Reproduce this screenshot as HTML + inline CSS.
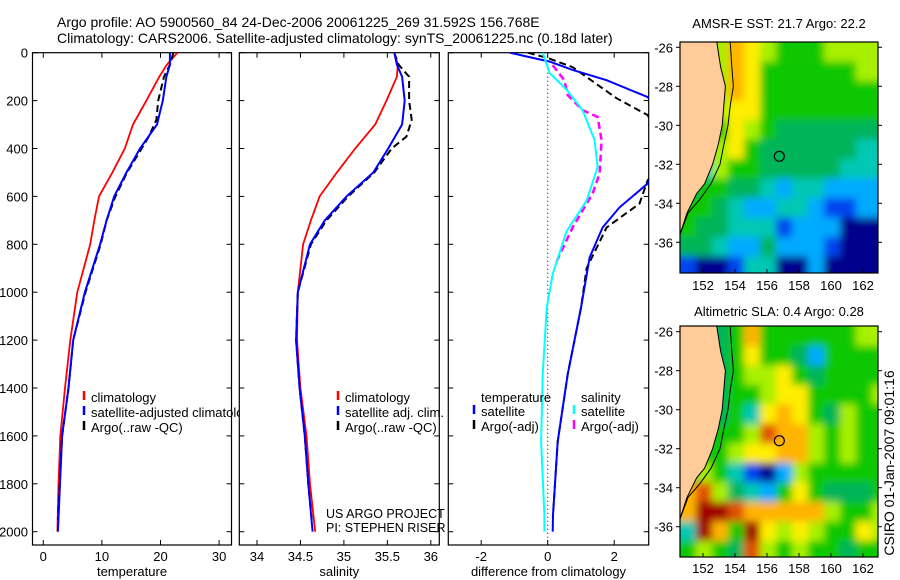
<!DOCTYPE html>
<html><head><meta charset="utf-8"><style>
body{margin:0;background:#fff}
svg{display:block}
text{font-family:"Liberation Sans",sans-serif;fill:#000}
</style></head><body>
<svg id="fig" width="900" height="580" viewBox="0 0 900 580" xmlns="http://www.w3.org/2000/svg">
<defs>
<clipPath id="c1"><rect x="32.5" y="52.7" width="199" height="492.3"/></clipPath>
<clipPath id="c2"><rect x="239.3" y="52.7" width="200" height="492.3"/></clipPath>
<clipPath id="c3"><rect x="448.3" y="52.7" width="200.4" height="492.3"/></clipPath>
<clipPath id="cm1"><rect x="680" y="42" width="198" height="231"/></clipPath>
<clipPath id="cm2"><rect x="680" y="326" width="198" height="231"/></clipPath>
<filter id="blur" x="-10%" y="-10%" width="120%" height="120%"><feGaussianBlur stdDeviation="4"/></filter>
</defs>
<text x="57" y="27" font-size="14">Argo profile: AO 5900560_84 24-Dec-2006 20061225_269 31.592S 156.768E</text>
<text x="57" y="43" font-size="14">Climatology: CARS2006. Satellite-adjusted climatology: synTS_20061225.nc (0.18d later)</text>
<g id="g1"></g>
<g id="g2"></g>
<g id="g3"></g>
<g id="m1"></g>
<g id="m2"></g>
<text x="0" y="0" font-size="14" text-anchor="middle" transform="translate(894,463) rotate(-90)">CSIRO 01-Jan-2007 09:01:16</text>
</svg>
<script>
// ---- data ----
const tDepth=[0,50,100,200,300,400,500,600,700,800,1000,1200,1400,1600,1800,2000];
const tClim=[22.9,21.1,19.8,17.6,15.3,13.9,11.8,9.5,8.7,8.0,5.8,4.6,3.7,2.9,2.6,2.4];
const tSat=[21.6,21.6,21.0,20.4,19.4,16.5,14.2,12.1,10.8,9.7,7.1,5.1,4.3,3.2,2.85,2.5];
const aDepth=[0,50,100,200,280,350,400,500,600,700,800,1000,1200,1400,1600,1800,1950];
const tArgo=[22.2,21.6,20.6,19.6,19.3,18.0,16.8,14.3,12.3,10.8,9.8,7.2,5.1,4.3,3.2,2.8,2.5];
const sClim=[35.58,35.62,35.61,35.49,35.36,35.13,34.92,34.72,34.62,34.53,34.47,34.46,34.5,34.57,34.61,34.67];
const sSat=[35.58,35.61,35.67,35.70,35.67,35.51,35.34,35.03,34.78,34.61,34.47,34.45,34.49,34.55,34.59,34.64];
const sArgo=[35.58,35.63,35.75,35.75,35.78,35.72,35.55,35.35,35.05,34.8,34.62,34.47,34.45,34.49,34.55,34.59,34.63];
const dtDepth=[0,20,37,72,115,185,300,400,547,646,730,855,1065,1343,1624,1930,2000];
const dtSat=[-1.14,-0.5,0.06,0.75,1.77,3.0,3.9,3.6,3.0,2.16,1.65,1.26,1.0,0.6,0.3,0.16,0.15];
const daDepth=[0,22,60,190,260,400,535,630,730,900,1065,1343,1624,1930];
const dtArgo=[-0.6,0,0.75,2.07,3.0,3.6,3.0,2.76,1.77,1.17,1.0,0.6,0.3,0.16];
const dsDepth=[0,85,155,240,365,478,618,745,924,1066,1345,1624,1930,2000];
const dsSat=[-0.15,0.06,0.57,1.05,1.41,1.5,1.17,0.57,0.15,-0.03,-0.15,-0.2,-0.1,-0.1];
const dmDepth=[52,115,177,240,268,365,505,588,730,870];
const dsArgo=[0.15,0.5,0.6,1.05,1.5,1.62,1.56,1.35,0.75,0.27];
const depthTicks=[0,200,400,600,800,1000,1200,1400,1600,1800,2000];
const tTicks=[0,10,20,30];
const sTicks=[34,34.5,35,35.5,36];
const dTicks=[-2,0,2];
const lonTicks=[152,154,156,158,160,162];
const latTicks=[-26,-28,-30,-32,-34,-36];
// map grids: rows from -25.73 south by 1 deg, cols from lon 150.56 east by 1 deg
const sstRows=["LL68765556666","LL68755555566","LL68755555555","LL67755555555","LL57654444444","LL67544444433","L365544444333","L554432332222","5543223321122","5443331222000","4432242221000","1001330020000"];
const slaRows=["LL45855555566","LL45755425555","LL45667545555","LL45567755556","LL45378754655","LL55698865655","L556778865655","L653102655555","8964325754445","8rr9888886556","3r85r76765576","5654965655455"];
const palette={"0":"#00008c","1":"#0044ee","2":"#00aaff","3":"#00c8b4","4":"#00b45a","5":"#10c800","6":"#a8f000","7":"#ffee00","8":"#ffb400","9":"#e05000","r":"#a00000","L":"#00b45a"};
const coastLon=[152.86,153.1,153.4,153.3,153.2,152.95,152.6,152.1,151.6,151.0,150.6,150.56];
const coastLat=[-25.73,-27,-28,-29,-30,-31,-32,-33,-33.5,-34.5,-35.5,-35.6];
const shelfLon=[153.7,153.8,153.9,153.7,153.56,153.3,153.06,152.5,151.8,151.06,150.56];
const shelfLat=[-25.73,-27,-28,-29,-30,-31,-32,-33,-33.8,-34.5,-35.6];
const argoLon=156.77, argoLat=-31.59;

const NS="http://www.w3.org/2000/svg";
function mk(parent,tag,attrs){const e=document.createElementNS(NS,tag);for(const k in attrs)e.setAttribute(k,attrs[k]);parent.appendChild(e);return e;}
const yD=d=>52.7+d*0.2395;

function panel(g,x0,w,xs,ticks,title,clip,showY){
  const top=52.7,bot=545;
  const r=mk(g,'rect',{x:x0,y:top,width:w,height:bot-top,fill:'#fff',stroke:'#000','stroke-width':1.2});
  
  
  depthTicks.forEach(d=>{
    mk(g,'line',{x1:x0,x2:x0+5,y1:yD(d),y2:yD(d),stroke:'#000'});
    mk(g,'line',{x1:x0+w,x2:x0+w-5,y1:yD(d),y2:yD(d),stroke:'#000'});
    if(showY){const t=mk(g,'text',{x:28,y:yD(d)+5,'font-size':13,'text-anchor':'end'});t.textContent=d;
      
      }
  });
  ticks.forEach(v=>{
    mk(g,'line',{x1:xs(v),x2:xs(v),y1:bot,y2:bot-5,stroke:'#000'});
    mk(g,'line',{x1:xs(v),x2:xs(v),y1:top,y2:top+5,stroke:'#000'});
    const t=mk(g,'text',{x:xs(v),y:561,'font-size':13,'text-anchor':'middle'});t.textContent=v;
    
    
  });
  const tt=mk(g,'text',{x:x0+w/2,y:576,'font-size':13,'text-anchor':'middle'});tt.textContent=title;
  
  
  return mk(g,'g',{'clip-path':'url(#'+clip+')'});
}
function line(g,xs,depths,vals,color,w,dash,name){
  const pts=depths.map((d,i)=>xs(vals[i]).toFixed(1)+','+yD(d).toFixed(1)).join(' ');
  const p=mk(g,'polyline',{points:pts,fill:'none',stroke:color,'stroke-width':w});
  if(dash)p.setAttribute('stroke-dasharray',dash);
  
  
}
function legend(g,x,y,color,label,name){
  mk(g,'line',{x1:x,x2:x,y1:y-11,y2:y-2,stroke:color,'stroke-width':2.5});
  const t=mk(g,'text',{x:x+7,y:y,'font-size':13});t.textContent=label;
  
  
}
// panel 1
const xT=v=>43.3+5.86*v;
const g1=document.getElementById('g1');
const p1=panel(g1,32.5,199,xT,tTicks,'temperature','c1',true);
line(p1,xT,tDepth,tClim,'#f00',1.8,null,'temp-climatology-line');
line(p1,xT,aDepth,tArgo,'#000',2,'7,4','temp-argo-line');
line(p1,xT,tDepth,tSat,'#00f',2,null,'temp-satellite-line');
legend(g1,84,402,'#f00','climatology','legend-climatology');
legend(g1,84,417,'#00f','satellite-adjusted climatology','legend-satellite');
legend(g1,84,432,'#000','Argo(..raw -QC)','legend-argo');
// panel 2
const xS=v=>257+86.9*(v-34);
const g2=document.getElementById('g2');
const p2=panel(g2,239.3,200,xS,sTicks,'salinity','c2',false);
line(p2,xS,tDepth,sClim,'#f00',1.8,null,'sal-climatology-line');
line(p2,xS,aDepth,sArgo,'#000',2,'7,4','sal-argo-line');
line(p2,xS,tDepth,sSat,'#00f',2,null,'sal-satellite-line');
legend(g2,338,402,'#f00','climatology','legend-climatology');
legend(g2,338,417,'#00f','satellite adj. clim.','legend-satellite');
legend(g2,338,432,'#000','Argo(..raw -QC)','legend-argo');
const u1=mk(g2,'text',{x:326,y:518,'font-size':12.5});u1.textContent='US ARGO PROJECT';


const u2=mk(g2,'text',{x:326,y:532,'font-size':12.5});u2.textContent='PI: STEPHEN RISER';


// panel 3
const xD=v=>547.7+33.25*v;
const g3=document.getElementById('g3');
const p3=panel(g3,448.3,200.4,xD,dTicks,'difference from climatology','c3',false);
mk(p3,'line',{x1:xD(0),x2:xD(0),y1:52.7,y2:545,stroke:'#000','stroke-width':1,'stroke-dasharray':'1,3'});
line(p3,xD,daDepth,dtArgo,'#000',2,'7,4','diff-temp-argo-line');
line(p3,xD,dtDepth,dtSat,'#00f',2,null,'diff-temp-satellite-line');
line(p3,xD,dmDepth,dsArgo,'#f0f',2.5,'7,4','diff-sal-argo-line');
line(p3,xD,dsDepth,dsSat,'#0ff',2,null,'diff-sal-satellite-line');
const lt=mk(g3,'text',{x:481,y:402,'font-size':13});lt.textContent='temperature';


const ls=mk(g3,'text',{x:581,y:402,'font-size':13});ls.textContent='salinity';


legend(g3,474,416,'#00f','satellite','legend-temp-satellite');
legend(g3,474,431,'#000','Argo(-adj)','legend-temp-argo');
legend(g3,574,416,'#0ff','satellite','legend-sal-satellite');
legend(g3,574,431,'#f0f','Argo(-adj)','legend-sal-argo');

// maps
function map(id,rows,lat0y,clip,title,titleY,lonLabelY){
  const g=document.getElementById(id);
  const top=id==='m1'?42:326;
  const xL=lon=>703+16*(lon-152);
  const yL=lat=>lat0y+19.5*(-26-lat);
  const t=mk(g,'text',{x:779,y:titleY,'font-size':13,'text-anchor':'middle'});t.textContent=title;
  
  
  const cg=mk(g,'g',{'clip-path':'url(#'+clip+')'});
  const bg=mk(cg,'g',{filter:'url(#blur)'});
  const nr=rows.length;
  rows.forEach((row,ri)=>{
    const nc=row.length;
    for(let ci=0;ci<nc;ci++){
      const lon=150.56+ci, lat=-25.73-ri;
      let x=xL(lon), y=yL(lat), w=16.5, h=20;
      if(ci===0){x-=12;w+=12;}
      if(ci===nc-1){w+=12;}
      if(ri===0){y-=12;h+=12;}
      if(ri===nr-1){h+=12;}
      const c=mk(bg,'rect',{x:x.toFixed(1),y:y.toFixed(1),width:w,height:h,fill:palette[row[ci]]});
      
      
    }
  });
  const land=coastLon.map((l,i)=>xL(l).toFixed(1)+','+yL(coastLat[i]).toFixed(1)).join(' ')+' '+xL(150)+','+yL(-36)+' '+xL(150)+','+yL(-25)+' '+xL(coastLon[0])+','+yL(-25);
  const lp=mk(cg,'polygon',{points:land,fill:'#ffcc99',stroke:'#000','stroke-width':1});
  
  
  const sh=shelfLon.map((l,i)=>xL(l).toFixed(1)+','+yL(shelfLat[i]).toFixed(1)).join(' ');
  const sp=mk(cg,'polyline',{points:sh,fill:'none',stroke:'#000','stroke-width':1});
  
  
  const ci=mk(g,'circle',{cx:xL(argoLon),cy:yL(argoLat),r:5,fill:'none',stroke:'#000','stroke-width':1.2});
  
  
  const fr=mk(g,'rect',{x:680,y:top,width:198,height:231,fill:'none',stroke:'#000','stroke-width':1.2});
  
  
  lonTicks.forEach(v=>{
    mk(g,'line',{x1:xL(v),x2:xL(v),y1:top+231,y2:top+227,stroke:'#000'});
    const l=mk(g,'text',{x:xL(v),y:lonLabelY,'font-size':13,'text-anchor':'middle'});l.textContent=v;
    
    
  });
  latTicks.forEach(v=>{
    mk(g,'line',{x1:878,x2:882,y1:yL(v),y2:yL(v),stroke:'#000'});
    mk(g,'line',{x1:676,x2:680,y1:yL(v),y2:yL(v),stroke:'#000'});
    const l=mk(g,'text',{x:673,y:yL(v)+5,'font-size':13,'text-anchor':'end'});l.textContent=v;
    
    
  });
}
map('m1',sstRows,47.3,'cm1','AMSR-E SST: 21.7 Argo: 22.2',28,290);
map('m2',slaRows,331.7,'cm2','Altimetric SLA: 0.4 Argo: 0.28',316,573);
</script>
</body></html>
